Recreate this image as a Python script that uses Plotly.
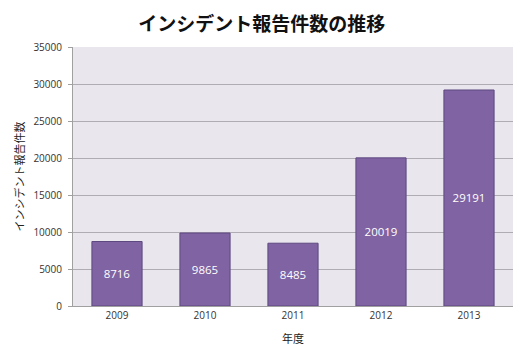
import plotly.graph_objects as go

years = ["2009", "2010", "2011", "2012", "2013"]
counts = [8716, 9865, 8485, 20019, 29191]
y_ticks = [0, 5000, 10000, 15000, 20000, 25000, 30000, 35000]

fig = go.Figure(go.Bar(
    x=years, y=counts,
    marker=dict(color="#7F63A2", line=dict(color="#5E4880", width=1)),
    text=[str(c) for c in counts],
    textposition="inside", insidetextanchor="middle",
    textfont=dict(color="white", size=11.5, family="Open Sans, DejaVu Sans, sans-serif"),
    width=0.57,
))

# page body has an 8px default margin: size figure to fill the remaining window
fig.update_layout(
    width=517, height=352,
    margin=dict(l=63, r=12, t=39, b=54),
    paper_bgcolor="white",
    plot_bgcolor="#E9E6EE",
    title=dict(text="<b>インシデント報告件数の推移</b>", x=0.491, xanchor="center",
               y=1 - 16 / 352, yref="container", yanchor="middle",
               font=dict(size=19, color="#111", family="Noto Sans CJK JP, sans-serif")),
    showlegend=False,
    font=dict(family="Open Sans, DejaVu Sans, sans-serif", size=10, color="#333"),
)
fig.update_xaxes(
    title=dict(text="年度", font=dict(size=11, family="Noto Sans CJK JP, sans-serif", color="#222"), standoff=14),
    showline=True, linecolor="#A0A0A0", ticks="", tickfont=dict(size=10, color="#333"),
)
fig.update_yaxes(
    title=dict(text="インシデント報告件数", font=dict(size=11, family="Noto Sans CJK JP, sans-serif", color="#222"), standoff=6),
    range=[0, 35000], tickvals=y_ticks, ticktext=[str(v) for v in y_ticks],
    showgrid=True, gridcolor="#B0ACB4", gridwidth=1,
    showline=True, linecolor="#A0A0A0", ticks="outside", ticklen=4, tickcolor="#A0A0A0",
    ticklabelstandoff=4,
    tickfont=dict(size=10, color="#333"), zeroline=False,
)

fig.write_html("out.html")
